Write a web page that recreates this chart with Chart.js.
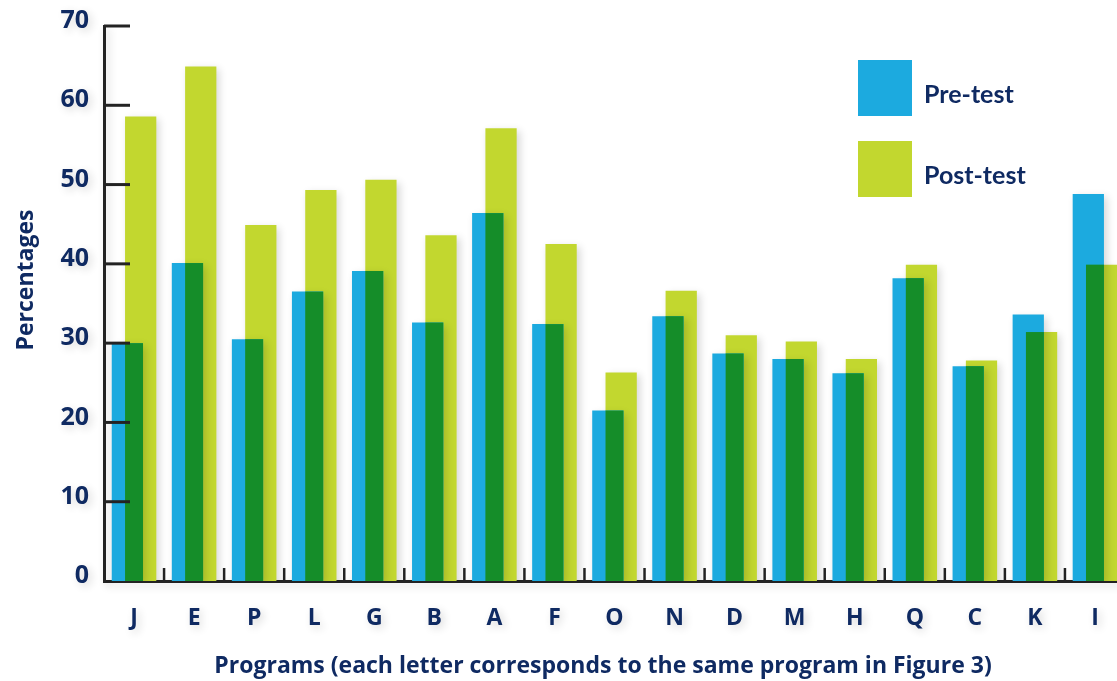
<!DOCTYPE html>
<html>
<head>
<meta charset="utf-8">
<script src="https://cdn.jsdelivr.net/npm/chart.js@4.4.1/dist/chart.umd.min.js"></script>
<style>
  html, body { margin: 0; padding: 0; background: #fff; overflow: hidden; width: 1117px; height: 681px; }
  canvas { display: block; }
</style>
</head>
<body>
<canvas id="chart" width="1130" height="681" style="width:1130px;height:681px"></canvas>
<script>
// data
const programs = ['J', 'E', 'P', 'L', 'G', 'B', 'A', 'F', 'O', 'N', 'D', 'M', 'H', 'Q', 'C', 'K', 'I'];
const preTest  = [30.0, 40.1, 30.5, 36.5, 39.1, 32.6, 46.4, 32.4, 21.5, 33.4, 28.7, 28.0, 26.2, 38.2, 27.1, 33.6, 48.8];
const postTest = [58.6, 64.9, 44.9, 49.3, 50.6, 43.6, 57.1, 42.5, 26.3, 36.6, 31.0, 30.2, 28.0, 39.9, 27.8, 31.4, 39.9];
const yTicks = [0, 10, 20, 30, 40, 50, 60, 70];
const seriesNames = ['Pre-test', 'Post-test'];
const xTitle = 'Programs (each letter corresponds to the same program in Figure 3)';
const yTitle = 'Percentages';

const NAVY = '#0f2a62';
const BLUE = '#1caadf';
const LIME = '#c2d72f';
const GREEN = '#158d29';
const AXIS = '#232323';
const FONT = '"Open Sans", Lato, sans-serif';
const LEGEND_FONT = 'Lato, "Open Sans", sans-serif';

// soft drop shadow over everything, like the original artwork
const shadowPlugin = {
    id: 'shadow',
    beforeDraw(chart) {
        const ctx = chart.ctx;
        ctx.save();
        ctx.shadowColor = 'rgba(0,0,0,0.16)';
        ctx.shadowBlur = 8;
        ctx.shadowOffsetX = 3;
        ctx.shadowOffsetY = 3;
    },
    afterDraw(chart) {
        chart.ctx.restore();
    }
};

// where the two bars overlap, paint the mixed green
const overlapPlugin = {
    id: 'overlap',
    afterDatasetsDraw(chart) {
        const ctx = chart.ctx;
        const pre = chart.getDatasetMeta(0).data;
        const post = chart.getDatasetMeta(1).data;
        ctx.save();
        ctx.shadowColor = 'transparent';
        ctx.fillStyle = GREEN;
        pre.forEach((a, i) => {
            const b = post[i];
            const left = Math.max(a.x - a.width / 2, b.x - b.width / 2);
            const right = Math.min(a.x + a.width / 2, b.x + b.width / 2);
            const top = Math.max(a.y, b.y);
            if (right > left) ctx.fillRect(left, top, right - left, a.base - top);
        });
        ctx.restore();
    }
};

// inward tick marks, legend and axis titles
const decorPlugin = {
    id: 'decor',
    afterDraw(chart) {
        const ctx = chart.ctx;
        const x = chart.scales.x, y = chart.scales.y;
        const area = chart.chartArea;
        ctx.save();
        ctx.strokeStyle = AXIS;
        ctx.lineWidth = 3;
        yTicks.forEach(v => {
            if (v === 0) return;
            const py = y.getPixelForValue(v);
            ctx.beginPath();
            ctx.moveTo(area.left, py);
            ctx.lineTo(area.left + 26, py);
            ctx.stroke();
        });
        ctx.lineWidth = 2.5;
        for (let i = 0; i < programs.length - 1; i++) {
            const px = (x.getPixelForValue(i) + x.getPixelForValue(i + 1)) / 2;
            ctx.beginPath();
            ctx.moveTo(px, area.bottom);
            ctx.lineTo(px, area.bottom - 13);
            ctx.stroke();
        }

        // legend
        const colors = [BLUE, LIME];
        ctx.font = 'bold 25px ' + LEGEND_FONT;
        ctx.textBaseline = 'middle';
        ctx.textAlign = 'left';
        seriesNames.forEach((name, i) => {
            const top = 60 + i * 81;
            ctx.fillStyle = colors[i];
            ctx.fillRect(858, top, 54, 56);
            ctx.fillStyle = NAVY;
            ctx.fillText(name, 924, top + 35);
        });

        // axis titles
        ctx.fillStyle = NAVY;
        ctx.font = 'bold 23px ' + FONT;
        ctx.textAlign = 'center';
        ctx.fillText(xTitle, 603, 666);
        ctx.translate(26, 280);
        ctx.rotate(-Math.PI / 2);
        ctx.fillText(yTitle, 0, 0);
        ctx.restore();
    }
};

new Chart(document.getElementById('chart'), {
    type: 'bar',
    data: {
        labels: programs,
        datasets: [
            { label: seriesNames[0], data: preTest, backgroundColor: BLUE,
              categoryPercentage: 0.443, barPercentage: 2.35 },
            { label: seriesNames[1], data: postTest, backgroundColor: LIME,
              categoryPercentage: 0.443, barPercentage: 2.35 }
        ]
    },
    options: {
        responsive: false,
        animation: false,
        devicePixelRatio: 1,
        layout: { padding: { top: 26, right: 5, left: 0, bottom: 0 } },
        plugins: {
            legend: { display: false },
            tooltip: { enabled: false }
        },
        scales: {
            x: {
                grid: { display: false, drawTicks: false },
                border: { display: true, color: AXIS, width: 3 },
                ticks: {
                    color: NAVY,
                    padding: 24,
                    font: { family: FONT, size: 23, weight: 'bold' }
                },
                afterFit(scale) {
                    scale.height = 100;
                    scale.paddingLeft = 0;
                    scale.paddingRight = 0;
                }
            },
            y: {
                min: 0,
                max: 70,
                grid: { display: false, drawTicks: false },
                border: { display: true, color: AXIS, width: 3 },
                ticks: {
                    stepSize: 10,
                    color: NAVY,
                    padding: 15,
                    labelOffset: -5,
                    font: { family: FONT, size: 25, weight: 'bold' }
                },
                afterFit(scale) {
                    scale.width = 104;
                    scale.paddingTop = 0;
                    scale.paddingBottom = 0;
                }
            }
        }
    },
    plugins: [shadowPlugin, overlapPlugin, decorPlugin]
});
</script>
</body>
</html>
